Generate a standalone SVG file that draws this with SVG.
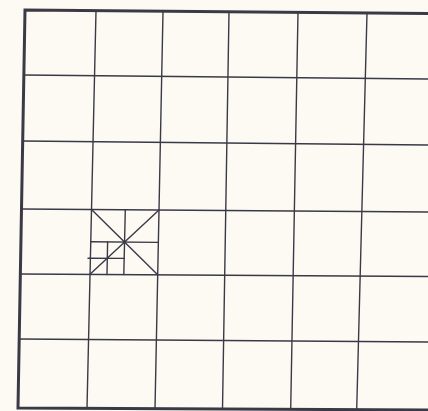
<svg xmlns="http://www.w3.org/2000/svg" width="428" height="411" viewBox="0 0 428 411">
<style>
.g{stroke:#3a3a46;stroke-width:1.4;fill:none;stroke-linecap:round}
.b{stroke:#3a3a46;stroke-width:3;fill:none;stroke-linecap:square}
</style>
<rect width="428" height="411" fill="#fcfaf3"/>
<g id="grid">
<line class="g" x1="24" y1="75" x2="428" y2="79"/>
<line class="g" x1="22.5" y1="141" x2="428" y2="145"/>
<line class="g" x1="21" y1="209" x2="428" y2="212"/>
<line class="g" x1="20.5" y1="274" x2="428" y2="276.5"/>
<line class="g" x1="19.5" y1="339" x2="428" y2="342"/>
<line class="g" x1="96" y1="11" x2="87" y2="408"/>
<line class="g" x1="163" y1="11.5" x2="155" y2="408.5"/>
<line class="g" x1="229" y1="12" x2="222.5" y2="409"/>
<line class="g" x1="298" y1="12.5" x2="290.7" y2="409"/>
<line class="g" x1="367" y1="13" x2="356.7" y2="409.5"/>
</g>
<g id="border">
<polyline class="b" points="428,13.5 25,10 18,408 428,410"/>
</g>
<g id="detail">
<line class="g" x1="91.5" y1="209.5" x2="157.7" y2="274.7"/>
<line class="g" x1="159" y1="210" x2="90" y2="274.3"/>
<line class="g" x1="125.3" y1="209.8" x2="123.8" y2="274.5"/>
<line class="g" x1="90.7" y1="241.8" x2="158.4" y2="242.4"/>
<line class="g" x1="107.6" y1="242" x2="107" y2="274.5"/>
<line class="g" x1="88" y1="258.2" x2="124.3" y2="258.4"/>
</g>
</svg>
